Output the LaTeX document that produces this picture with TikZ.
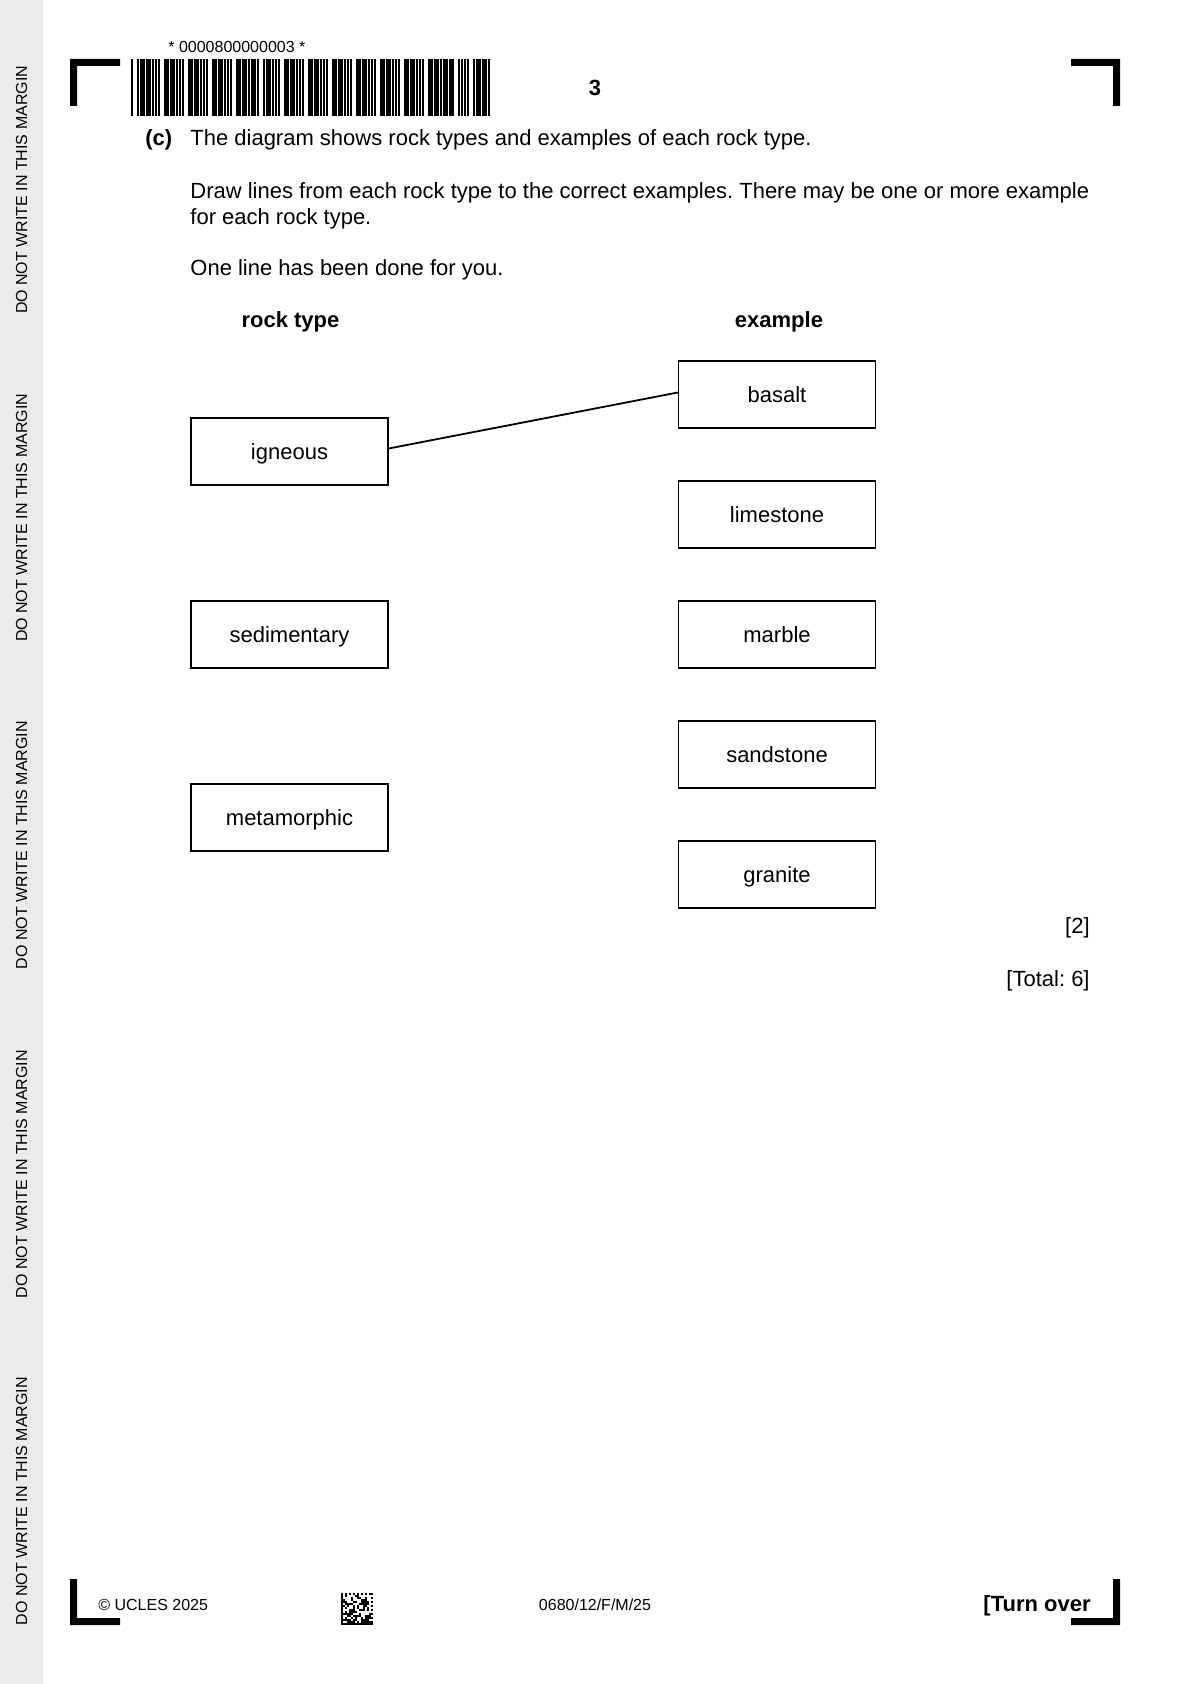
\documentclass[tikz,border=0pt]{standalone}
\usepackage{fontspec}
\setmainfont{Liberation Sans}
\frenchspacing
\definecolor{margingrey}{RGB}{235,235,235}
\begin{document}
\begin{tikzpicture}[x=0.5pt,y=-0.5pt,
  body/.style={inner sep=0pt, font=\fontsize{11}{13}\selectfont},
  bodyb/.style={inner sep=0pt, font=\fontsize{11}{13}\selectfont\bfseries},
  small/.style={inner sep=0pt, font=\fontsize{8}{10}\selectfont},
  marginnote/.style={inner sep=0pt, rotate=90, font=\fontsize{8}{10}\selectfont},
  rockbox/.style={draw, line width=0.7pt, minimum width=98.5pt, minimum height=33.5pt,
    inner sep=0pt, text height=9.8pt, text depth=2pt, font=\fontsize{11}{13}\selectfont},
  matchline/.style={line width=0.9pt},
  cropmark/.style={fill=black}]
\useasboundingbox (0,0) rectangle (1191,1684);
\fill[white] (0,0) rectangle (1191,1684);
% margin strip
\fill[margingrey] (0,0) rectangle (43,1684);
\foreach \yc [count=\k] in {190,518,845,1174,1501}
  \node[marginnote] (margin\k) at (21.5,\yc) {DO NOT WRITE IN THIS MARGIN};
% crop marks
\fill[cropmark] (70,59) -- (120,59) -- (120,66) -- (77,66) -- (77,106) -- (70,106) -- cycle;
\fill[cropmark] (1071,59) -- (1120,59) -- (1120,106) -- (1113,106) -- (1113,66) -- (1071,66) -- cycle;
\fill[cropmark] (70,1579) -- (77,1579) -- (77,1618) -- (120,1618) -- (120,1625) -- (70,1625) -- cycle;
\fill[cropmark] (1120,1579) -- (1120,1625) -- (1071,1625) -- (1071,1618) -- (1113,1618) -- (1113,1579) -- cycle;
% barcode
\gdef\bx{131}
\foreach \p in {{1,3,1,1,3,1,3,1,1},{1,1,1,3,3,1,3,1,1},{1,1,1,3,3,1,3,1,1},{1,1,1,3,3,1,3,1,1},
  {1,1,1,3,3,1,3,1,1},{3,1,1,3,1,1,3,1,1},{1,1,1,3,3,1,3,1,1},{1,1,1,3,3,1,3,1,1},
  {1,1,1,3,3,1,3,1,1},{1,1,1,3,3,1,3,1,1},{1,1,1,3,3,1,3,1,1},{1,1,1,3,3,1,3,1,1},
  {1,1,1,3,3,1,3,1,1},{3,1,3,3,1,1,1,1,1},{1,3,1,1,3,1,3,1,1}}{
  \foreach \e [count=\i] in \p {
    \ifodd\i \fill (\bx,59) rectangle ++(\e*1.5,57);\fi
    \pgfmathsetmacro\nx{\bx+\e*1.5}\xdef\bx{\nx}
  }
  \pgfmathsetmacro\nx{\bx+1.5}\xdef\bx{\nx}
}
\node[small, anchor=base west] (bcnum) at (168,53) {* 0000800000003 *};
\node[bodyb, anchor=base] (pnum) at (595,96) {3};
% question text
\node[bodyb, anchor=base west] (partc) at (145,146) {(c)};
\node[body, anchor=base west] (l1) at (190,146) {The diagram shows rock types and examples of each rock type.};
\node[body, anchor=base west] (l2) at (190,199) {Draw lines from each rock type to the correct examples. There may be one or more example};
\node[body, anchor=base west] (l3) at (190,225) {for each rock type.};
\node[body, anchor=base west] (l4) at (190,276) {One line has been done for you.};
% headers
\node[bodyb, anchor=base] (hrock) at (290.5,327.5) {rock type};
\node[bodyb, anchor=base] (hex) at (779,327.5) {example};
% boxes
\node[rockbox] (igneous) at (289.5,451.5) {igneous};
\node[rockbox] (sedimentary) at (289.5,634.5) {sedimentary};
\node[rockbox] (metamorphic) at (289.5,817.5) {metamorphic};
\node[rockbox] (basalt) at (777,394.5) {basalt};
\node[rockbox] (limestone) at (777,514.5) {limestone};
\node[rockbox] (marble) at (777,634.5) {marble};
\node[rockbox] (sandstone) at (777,754.5) {sandstone};
\node[rockbox] (granite) at (777,874.5) {granite};
\draw[matchline] ([yshift=1.5pt]igneous.east) -- ([yshift=1pt]basalt.west);
% marks
\node[body, anchor=base east] (mark2) at (1090,933.5) {[2]};
\node[body, anchor=base east] (total) at (1090,986) {[Total: 6]};
% footer
\node[small, anchor=base west] (copy) at (98,1610) {© UCLES 2025};
\node[small, anchor=base] (code) at (595,1610) {0680/12/F/M/25};
\node[bodyb, anchor=base east] (turn) at (1091,1611) {[Turn over};
% data matrix
\pgfmathsetseed{42}
\foreach \r in {0,...,15}{
  \foreach \c in {0,...,15}{
    \pgfmathtruncatemacro\bit{rnd>0.45}
    \ifnum\r=0 \pgfmathtruncatemacro\bit{1-mod(\c,2)}\fi
    \ifnum\c=15 \pgfmathtruncatemacro\bit{mod(\r+1,2)}\fi
    \ifnum\c=0 \def\bit{1}\fi
    \ifnum\r=15 \def\bit{1}\fi
    \ifnum\bit=1 \fill (341+2*\c,1593+2*\r) rectangle ++(2,2);\fi
  }
}
\end{tikzpicture}
\end{document}
